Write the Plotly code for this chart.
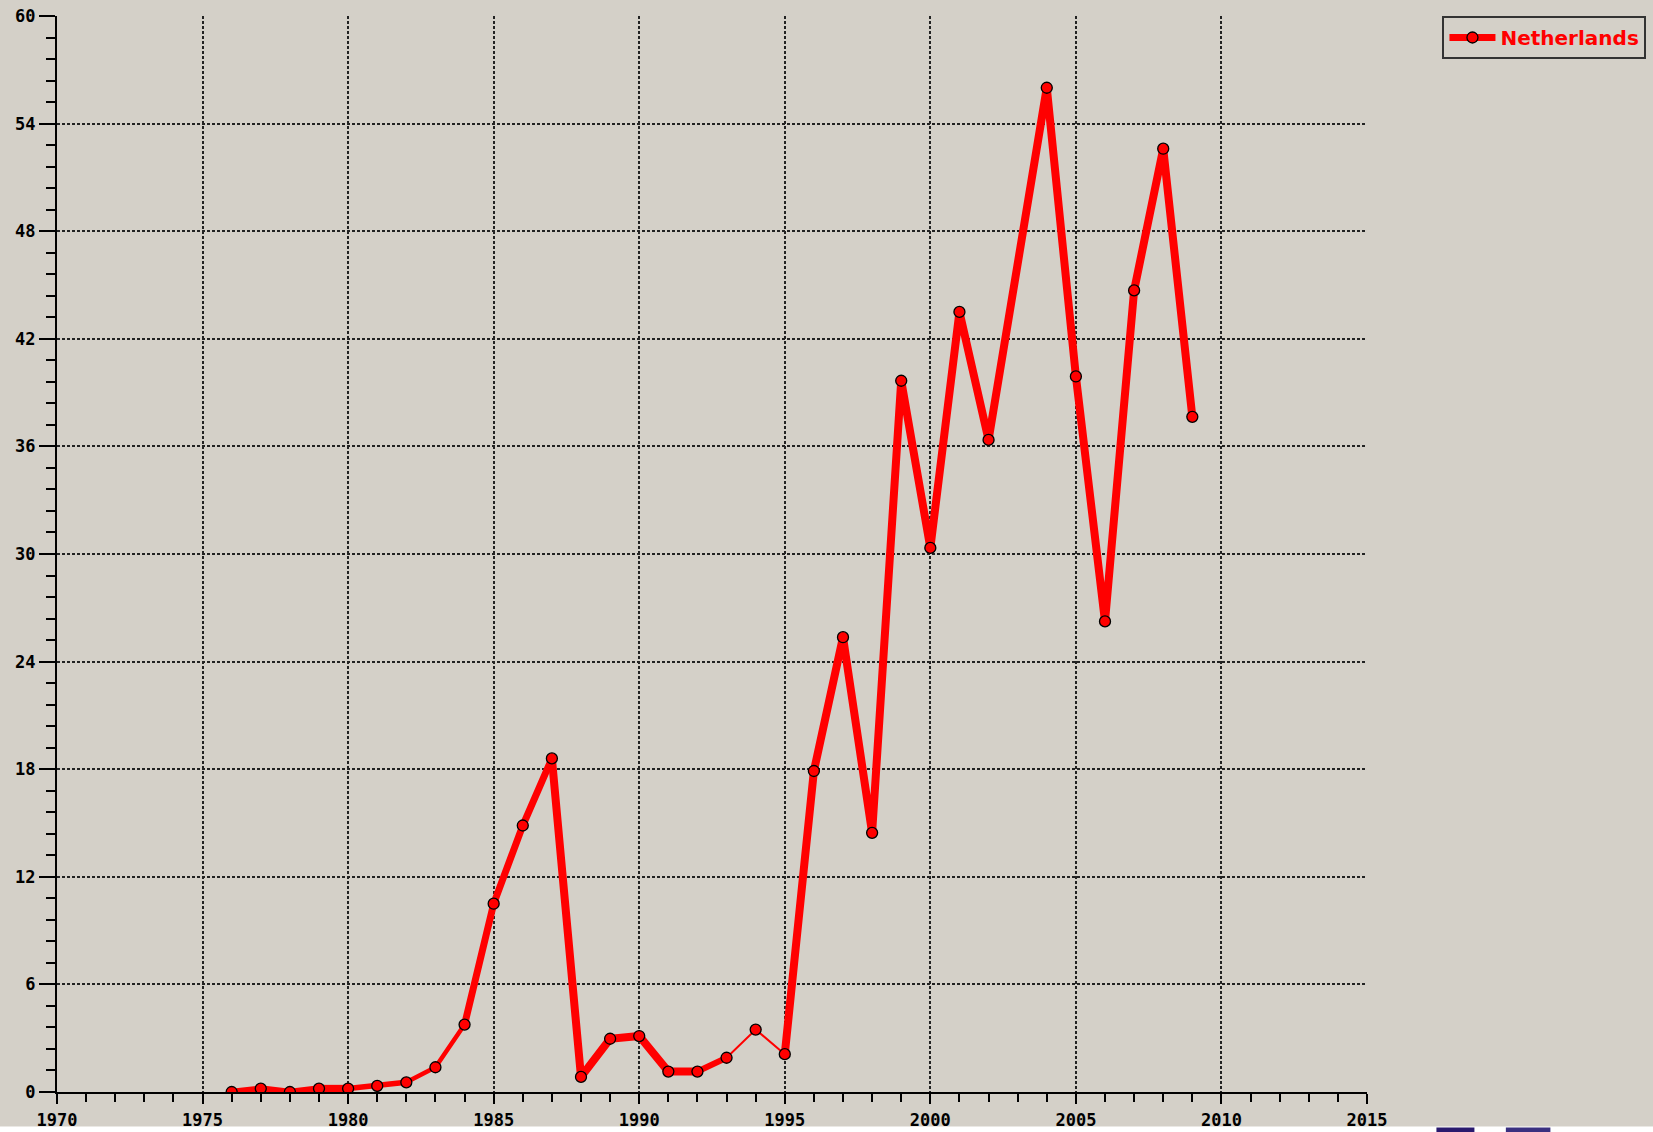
import plotly.graph_objects as go

# ---- data ----
years = [1976, 1977, 1978, 1979, 1980, 1981, 1982, 1983, 1984, 1985, 1986,
         1987, 1988, 1989, 1990, 1991, 1992, 1993, 1994, 1995, 1996, 1997,
         1998, 1999, 2000, 2001, 2002, 2004, 2005, 2006, 2007, 2008, 2009]
values = [0.0, 0.19, 0.0, 0.19, 0.19, 0.34, 0.54, 1.38, 3.76, 10.5, 14.86,
          18.6, 0.84, 2.97, 3.12, 1.14, 1.14, 1.91, 3.48, 2.11, 17.9, 25.36,
          14.45, 39.66, 30.34, 43.5, 36.36, 56.0, 39.9, 26.24, 44.7, 52.6, 37.65]
series_name = "Netherlands"

x_ticks = [1970, 1975, 1980, 1985, 1990, 1995, 2000, 2005, 2010, 2015]
y_ticks = [0, 6, 12, 18, 24, 30, 36, 42, 48, 54, 60]

# line-width style for each segment between consecutive points
seg_width = [6.5, 6.5, 6.5, 7.5, 5.5, 5.5, 4.5, 4.5, 7, 7, 7, 8, 8, 8, 8, 8, 6, 2, 2,
             8, 8, 8, 8, 8, 8, 8, 8, 8, 8, 8, 8, 8]

BG = "#d4d0c8"
RED = "#ff0000"
TICK_FONT = dict(family="DejaVu Sans Mono", size=17, color="black", weight="bold")

fig = go.Figure()

# line drawn in runs of equal width
i = 0
n = len(seg_width)
while i < n:
    j = i
    while j + 1 < n and seg_width[j + 1] == seg_width[i]:
        j += 1
    fig.add_trace(go.Scatter(
        x=years[i:j + 2], y=values[i:j + 2], mode="lines",
        line=dict(color=RED, width=seg_width[i]),
        showlegend=False, hoverinfo="skip"))
    i = j + 1

# markers
fig.add_trace(go.Scatter(
    x=years, y=values, mode="markers",
    marker=dict(color=RED, size=11, line=dict(color="black", width=1.3)),
    showlegend=False, name=series_name))

# legend entry
fig.add_trace(go.Scatter(
    x=[None], y=[None], mode="lines+markers", name=series_name,
    line=dict(color=RED, width=7),
    marker=dict(color=RED, size=11, line=dict(color="black", width=1.3))))

grid_common = dict(showgrid=True, gridcolor="#222222", gridwidth=1.5,
                   griddash="3px,2px", zeroline=False,
                   showline=True, linecolor="black", linewidth=2,
                   ticks="outside", tickcolor="black", tickwidth=2,
                   tickfont=TICK_FONT, automargin=False)

fig.update_xaxes(range=[1970, 2015], tickmode="array", tickvals=x_ticks,
                 ticktext=[str(v) for v in x_ticks], ticklen=10,
                 ticklabelstandoff=2,
                 minor=dict(dtick=1, tick0=1970, ticks="outside", ticklen=8,
                            tickcolor="black", tickwidth=2, showgrid=False),
                 **grid_common)
fig.update_yaxes(range=[0, 60], tickmode="array", tickvals=y_ticks,
                 ticktext=[str(v) for v in y_ticks], ticklen=16,
                 minor=dict(dtick=1.2, tick0=0, ticks="outside", ticklen=9,
                            tickcolor="black", tickwidth=2, showgrid=False),
                 **grid_common)

# thin white strip and logo fragment at very bottom of the page
fig.add_shape(type="rect", xref="paper", yref="paper",
              x0=-0.05, x1=1.22, y0=-0.0377, y1=-0.0321,
              fillcolor="white", line=dict(width=0), layer="above")
fig.add_shape(type="rect", xref="paper", yref="paper",
              x0=1.053, x1=1.082, y0=-0.0377, y1=-0.0330,
              fillcolor="#2a1a6e", line=dict(width=0), layer="above")
fig.add_shape(type="rect", xref="paper", yref="paper",
              x0=1.106, x1=1.140, y0=-0.0377, y1=-0.0330,
              fillcolor="#3a3080", line=dict(width=0), layer="above")

fig.update_layout(
    width=1653, height=1132,
    margin=dict(l=57, r=286, t=16, b=40, pad=0, autoexpand=False),
    paper_bgcolor=BG, plot_bgcolor=BG,
    legend=dict(x=1.0576, y=1.0, xanchor="left", yanchor="top",
                bgcolor="rgba(0,0,0,0)", bordercolor="#333333", borderwidth=2,
                font=dict(family="DejaVu Sans", size=20, color=RED, weight="bold"),
                itemwidth=46),
    showlegend=True,
)

fig.write_html(
    "out.html",
    config={"displayModeBar": False},
    post_script="document.body.style.margin='0';"
                "document.body.style.background='#d4d0c8';"
                "document.body.style.overflow='hidden';",
)
